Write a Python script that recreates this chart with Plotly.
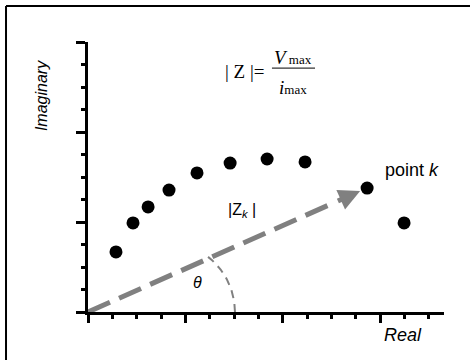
import numpy as np
import plotly.graph_objects as go

# ---- data ----
real_vals = [1.15, 1.85, 2.47, 3.33, 4.48, 5.84, 7.36, 8.92, 11.47, 12.99]
imag_vals = [2.67, 3.96, 4.67, 5.42, 6.18, 6.62, 6.80, 6.67, 5.51, 3.96]
point_k_index = 8
x_range = [0, 14.63]
y_range = [0, 12]

GRAY = "#808080"
SANS = "Liberation Sans, Arial, sans-serif"
SERIF = "Liberation Serif, Times New Roman, serif"

fig = go.Figure()

# dashed vector from origin to point k
kx, ky = real_vals[point_k_index], imag_vals[point_k_index]
tail_f, tip_f = 0.89, 0.975
fig.add_trace(go.Scatter(
    x=[0, kx * tail_f], y=[0, ky * tail_f], mode="lines",
    line=dict(color=GRAY, width=5, dash="24px,10px"), hoverinfo="skip"))

# angle arc (decorative)
t = np.linspace(0, np.deg2rad(52), 40)
arc_cx, arc_rx, arc_ry = 3.16, 2.88, 3.11
fig.add_trace(go.Scatter(
    x=arc_cx + arc_rx * np.cos(t), y=arc_ry * np.sin(t), mode="lines",
    line=dict(color=GRAY, width=2, dash="8px,6px"), hoverinfo="skip"))

# data points
fig.add_trace(go.Scatter(
    x=real_vals, y=imag_vals, mode="markers",
    marker=dict(color="black", size=13), hoverinfo="skip"))

def label(x, y, text, ref="x", size=16, family=SANS, **kw):
    d = dict(x=x, y=y, text=text, showarrow=False,
             xanchor="center", yanchor="middle",
             font=dict(family=family, size=size, color="black"))
    if ref == "paper":
        d.update(xref="paper", yref="paper")
    else:
        d.update(xref="x", yref="y")
    d.update(kw)
    return d

annotations = [
    # arrowhead
    dict(x=kx * tip_f, y=ky * tip_f, ax=kx * tail_f, ay=ky * tail_f,
         xref="x", yref="y", axref="x", ayref="y", text="",
         showarrow=True, arrowhead=2, arrowsize=0.85, arrowwidth=5,
         arrowcolor=GRAY),
    label(13.32, 6.31, "point <i>k</i>", size=18),
    label(6.33, 4.53, "|Z<sub><i>k</i></sub> |", size=16),
    label(4.48, 1.33, "<i>θ</i>", size=16),
    label(0.885, -0.085, "<i>Real</i>", ref="paper", size=18),
    label(-0.129, 0.80, "<i>Imaginary</i>", ref="paper", size=16,
          textangle=-90),
    # formula
    label(6.45, 10.67, "| Z |=", size=19, family=SERIF),
    label(8.43, 11.29, "<i>V</i><span style='font-size:13px'> max</span>",
          size=19, family=SERIF),
    label(8.43, 9.96, "<i>i</i><span style='font-size:13px'>max</span>",
          size=19, family=SERIF),
]

shapes = [
    dict(type="line", xref="x", yref="y", x0=7.56, x1=9.33, y0=10.84, y1=10.84,
         line=dict(color="black", width=1)),
    # outer frame (top and left)
    dict(type="line", xref="paper", yref="paper", x0=-0.2303, x1=1.08,
         y0=1.133, y1=1.133, line=dict(color="black", width=2)),
    dict(type="line", xref="paper", yref="paper", x0=-0.2303, x1=-0.2303,
         y0=1.133, y1=-0.19, line=dict(color="black", width=2)),
]

axis_common = dict(showgrid=False, zeroline=False, showline=True,
                   linecolor="black", linewidth=3, showticklabels=False,
                   ticks="outside", tickwidth=3, tickcolor="black",
                   fixedrange=True, automargin=False)

fig.update_layout(
    width=470, height=360,
    margin=dict(l=88, r=26, t=42, b=48, autoexpand=False),
    paper_bgcolor="white", plot_bgcolor="white",
    showlegend=False,
    xaxis=dict(range=x_range, tick0=0, dtick=4, ticklen=8,
               minor=dict(dtick=1, ticks="outside", ticklen=4, tickwidth=3,
                          tickcolor="black"),
               **axis_common),
    yaxis=dict(range=y_range, tick0=0, dtick=4, ticklen=9,
               minor=dict(dtick=1, ticks="outside", ticklen=4, tickwidth=3,
                          tickcolor="black"),
               **axis_common),
    annotations=annotations,
    shapes=shapes,
)

fig.write_html("out.html", config={"displayModeBar": False},
               post_script="document.body.style.margin='0';"
                           "document.body.style.overflow='hidden';")
